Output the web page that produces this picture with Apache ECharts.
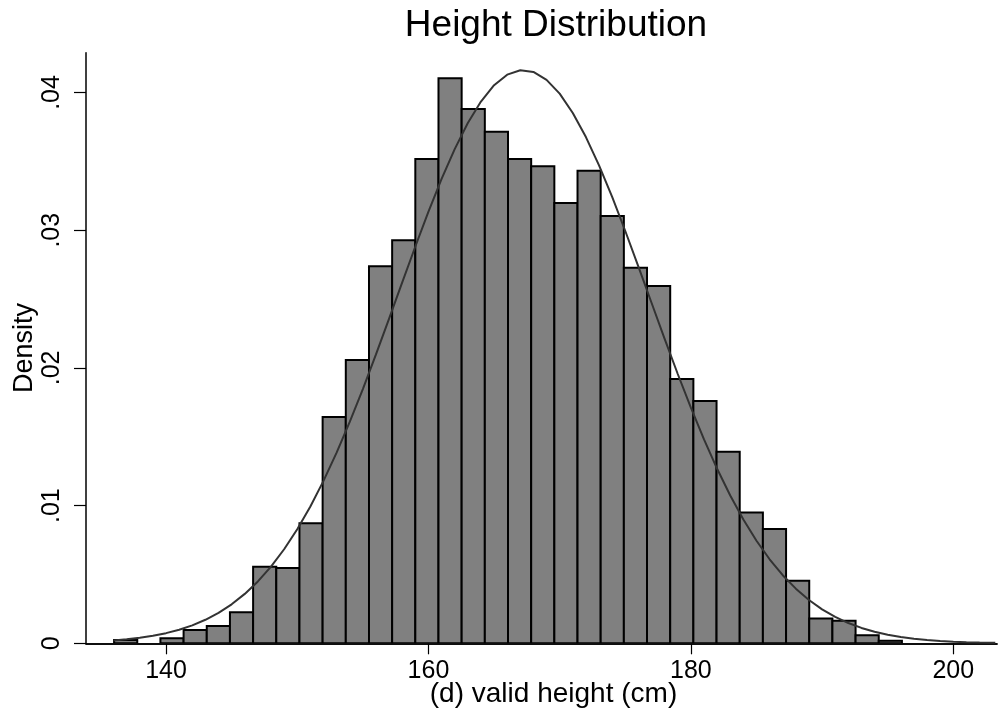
<!DOCTYPE html>
<html>
<head>
<meta charset="utf-8">
<script src="https://cdn.jsdelivr.net/npm/echarts@6/dist/echarts.min.js"></script>
<style>
html,body{margin:0;padding:0;background:#fff;}
#chart{width:1000px;height:715px;}
</style>
</head>
<body>
<div id="chart"></div>
<script>
// ---- Data ----
// Histogram: lower edge of first bin and bin width (cm)
const binStart = 136.04;
const binWidth = 1.766;
// Density of each bin, left to right
const binDensity = [
  0.00024, 0, 0.00036, 0.00097, 0.00126, 0.00225, 0.00556, 0.00547, 0.00871, 0.01643,
  0.02057, 0.02738, 0.02927, 0.03517, 0.04103, 0.03880, 0.03715, 0.03517, 0.03464, 0.03198,
  0.03432, 0.03103, 0.02728, 0.02595, 0.01920, 0.01760, 0.01391, 0.00949, 0.00830, 0.00455,
  0.00181, 0.00164, 0.00058, 0.00019
];
// Normal density overlay, read at these heights (cm)
const curveX = [136,137,138,139,140,141,142,143,144,145,146,147,148,149,150,151,152,153,154,155,
  156,157,158,159,160,161,162,163,164,165,166,167,168,169,170,171,172,173,174,175,
  176,177,178,179,180,181,182,183,184,185,186,187,188,189,190,191,192,193,194,195,
  196,197,198,199,200,201,202,203,203.2];
const curveY = [0.000206,0.000288,0.000398,0.000545,0.000737,0.000986,0.001304,0.001707,0.002211,0.002832,
  0.003587,0.004495,0.005571,0.006831,0.008284,0.009938,0.011795,0.013844,0.016075,0.018464,
  0.020977,0.023573,0.026206,0.028816,0.031343,0.033723,0.035890,0.037783,0.039345,0.040528,
  0.041294,0.041619,0.041492,0.040918,0.039915,0.038514,0.036761,0.034706,0.032412,0.029942,
  0.027360,0.024731,0.022112,0.019556,0.017108,0.014805,0.012673,0.010730,0.008987,0.007446,
  0.006102,0.004947,0.003967,0.003146,0.002468,0.001916,0.001470,0.001117,0.000839,0.000623,
  0.000458,0.000333,0.000239,0.000170,0.000120,0.0000834,0.0000574,0.0000391,0.0000362];
// Axis ticks
const xTicks = [140, 160, 180, 200];
const yTicks = [0, 0.01, 0.02, 0.03, 0.04];
const yTickLabels = ['0', '.01', '.02', '.03', '.04'];

const FONT = "'Liberation Sans', Arial, Helvetica, sans-serif";

const barData = binDensity.map((d, i) => [binStart + i * binWidth, binStart + (i + 1) * binWidth, d]);
const lineData = curveX.map((x, i) => [x, curveY[i]]);

const chart = echarts.init(document.getElementById('chart'), null, {renderer: 'canvas'});
chart.setOption({
  animation: false,
  backgroundColor: '#ffffff',
  title: {
    text: 'Height Distribution',
    left: 551, top: 2, textAlign: 'center',
    textStyle: {fontFamily: FONT, fontSize: 37, fontWeight: 'normal', color: '#000'}
  },
  grid: {left: 86, right: 3, top: 52.7, bottom: 71.7, containLabel: false, outerBoundsMode: 'none'},
  xAxis: [{
    type: 'value', min: 133.90, max: 203.33,
    splitLine: {show: false},
    axisLine: {show: true, onZero: false, lineStyle: {color: '#000', width: 1.5}},
    axisTick: {show: true, length: 11, customValues: xTicks, lineStyle: {color: '#000', width: 1.2}},
    axisLabel: {customValues: xTicks, margin: 15, fontFamily: FONT, fontSize: 25, color: '#000'},
    name: '(d) valid height (cm)', nameLocation: 'middle', nameGap: 37, nameMoveOverlap: false,
    nameTextStyle: {fontFamily: FONT, fontSize: 28, color: '#000', padding: [0, 0, 0, 24]}
  }, {
    type: 'value', position: 'top', min: 133.90, max: 203.33,
    splitLine: {show: false}, axisTick: {show: false}, axisLabel: {show: false},
    axisLine: {show: true, lineStyle: {color: '#000', width: 1.5}}
  }],
  yAxis: {
    type: 'value', min: 0, max: 0.04289,
    splitLine: {show: false},
    axisLine: {show: true, lineStyle: {color: '#000', width: 1.5}},
    axisTick: {show: true, length: 12, customValues: yTicks, lineStyle: {color: '#000', width: 1.2}},
    axisLabel: {
      customValues: yTicks, rotate: 90, margin: 21, fontFamily: FONT, fontSize: 25, color: '#000',
      formatter: function (v) { const i = yTicks.findIndex(t => Math.abs(t - v) < 1e-9); return i >= 0 ? yTickLabels[i] : ''; }
    },
    name: 'Density', nameLocation: 'middle', nameGap: 48, nameRotate: 90, nameMoveOverlap: false,
    nameTextStyle: {fontFamily: FONT, fontSize: 27, color: '#000'}
  },
  series: [{
    type: 'custom',
    xAxisIndex: 0,
    data: barData,
    clip: true,
    renderItem: function (params, api) {
      const x0 = api.value(0), x1 = api.value(1), y = api.value(2);
      if (!(y > 0)) return null;
      const p0 = api.coord([x0, y]);
      const p1 = api.coord([x1, 0]);
      return {
        type: 'rect',
        shape: {x: p0[0], y: p0[1], width: p1[0] - p0[0], height: p1[1] - p0[1]},
        style: {fill: '#808080', stroke: '#000', lineWidth: 2}
      };
    },
    z: 2
  }, {
    type: 'line',
    xAxisIndex: 0,
    data: lineData,
    smooth: false,
    showSymbol: false,
    symbol: 'none',
    clip: true,
    lineStyle: {color: '#333333', width: 2},
    z: 3
  }]
});
</script>
</body>
</html>
